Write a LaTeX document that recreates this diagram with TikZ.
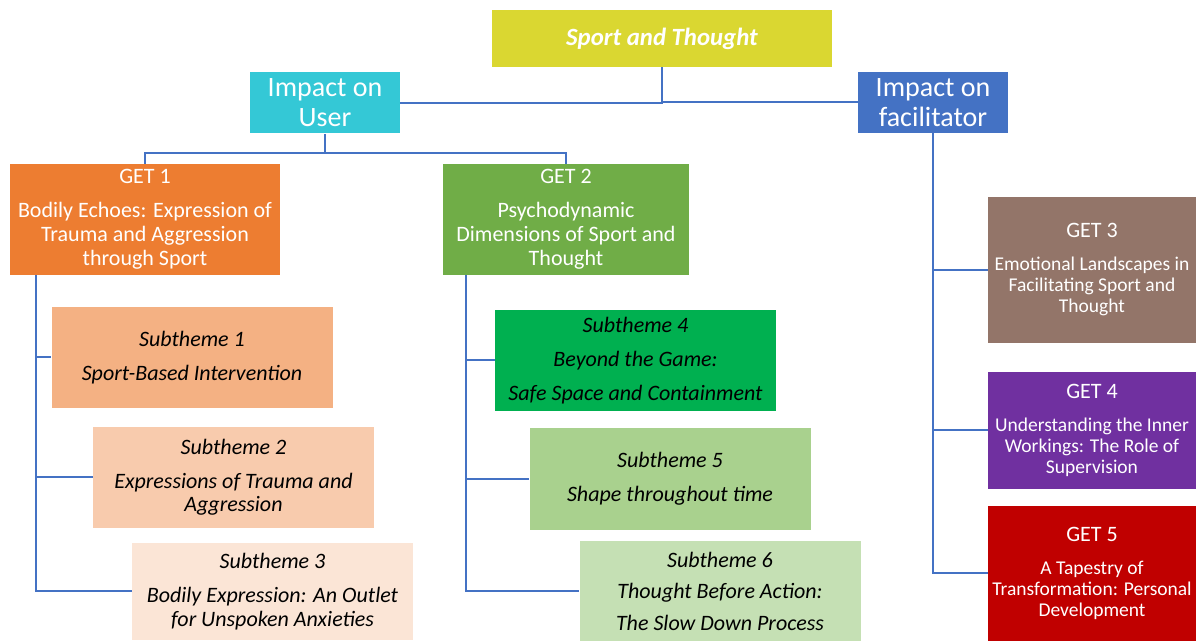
\documentclass[tikz,border=0pt]{standalone}
\usepackage{fontspec}
\setmainfont{Carlito}
\usepackage{tikz}

\definecolor{linkc}{HTML}{4472C4}
\definecolor{sportc}{HTML}{DAD731}
\definecolor{userc}{HTML}{34C8D6}
\definecolor{facc}{HTML}{4472C4}
\definecolor{get1c}{HTML}{ED7D31}
\definecolor{get2c}{HTML}{70AD47}
\definecolor{get3c}{HTML}{937569}
\definecolor{get4c}{HTML}{7030A0}
\definecolor{get5c}{HTML}{C00000}
\definecolor{sub1c}{HTML}{F4B183}
\definecolor{sub2c}{HTML}{F8CBAD}
\definecolor{sub3c}{HTML}{FBE5D6}
\definecolor{sub4c}{HTML}{00B050}
\definecolor{sub5c}{HTML}{A9D18E}
\definecolor{sub6c}{HTML}{C5E0B4}

\newcommand{\gethead}[1]{{\fontsize{11}{10.5}\selectfont #1}}

\tikzset{
    box/.style={rectangle, inner sep=0pt, align=center, text=white}, % every coloured block
    impact/.style={box, minimum width=75pt, minimum height=30.5pt, font=\fontsize{14}{15}\selectfont}, % second level
    get/.style={box, minimum height=55.5pt, font=\fontsize{11}{12}\selectfont}, % GET blocks on the left
    getr/.style={box, minimum width=104pt, font=\fontsize{9.75}{10.5}\selectfont}, % GET blocks on the right
    sub/.style={box, text=black, minimum width=140.5pt, font=\itshape\fontsize{11}{11.75}\selectfont}, % subthemes
    link/.style={draw=linkc, line width=1pt}, % the tree lines
}

\begin{document}
\begin{tikzpicture}[x=0.5pt, y=-0.5pt]
    \useasboundingbox (0,0) rectangle (1196,641);
    % top of the tree
    \node[box, fill=sportc, minimum width=170pt, minimum height=28.5pt,
          font=\bfseries\itshape\fontsize{12.4}{14}\selectfont] (st) at (662,38.5) {Sport and Thought};
    \node[impact, fill=userc] (u) at (325,103) {Impact on\\User};
    \node[impact, fill=facc] (f) at (933,102.5) {Impact on\\facilitator};
    % GET blocks
    \node[get, fill=get1c, minimum width=135pt] (g1) at (145,219.5)
        {GET 1\\[5pt]Bodily Echoes: Expression of\\Trauma and Aggression\\through Sport};
    \node[get, fill=get2c, minimum width=123pt] (g2) at (566,219.5)
        {GET 2\\[5pt]Psychodynamic\\Dimensions of Sport and\\Thought};
    \node[getr, fill=get3c, minimum height=73pt] (g3) at (1092,270)
        {\gethead{GET 3}\\[6pt]Emotional Landscapes in\\Facilitating Sport and\\Thought};
    \node[getr, fill=get4c, minimum height=58.5pt] (g4) at (1092,430.5)
        {\gethead{GET 4}\\[6pt]Understanding the Inner\\Workings: The Role of\\Supervision};
    \node[getr, fill=get5c, minimum height=67.5pt] (g5) at (1092,573.5)
        {\gethead{GET 5}\\[6pt]A Tapestry of\\Transformation: Personal\\Development};
    % subthemes
    \node[sub, fill=sub1c, minimum height=50.5pt] (s1) at (192,357.5)
        {Subtheme 1\\[5.25pt]Sport-Based Intervention};
    \node[sub, fill=sub2c, minimum height=50.5pt] (s2) at (233.5,477.5)
        {Subtheme 2\\[5.25pt]Expressions of Trauma and\\Aggression};
    \node[sub, fill=sub3c, minimum height=48.5pt] (s3) at (272.5,591.5)
        {Subtheme 3\\[5.25pt]Bodily Expression: An Outlet\\for Unspoken Anxieties};
    \node[sub, fill=sub4c, minimum height=50.5pt] (s4) at (635.5,360.5)
        {Subtheme 4\\[5.25pt]Beyond the Game:\\[5.25pt]Safe Space and Containment};
    \node[sub, fill=sub5c, minimum height=51pt] (s5) at (670,479)
        {Subtheme 5\\[5.25pt]Shape throughout time};
    \node[sub, fill=sub6c, minimum height=50pt] (s6) at (720,591)
        {Subtheme 6\\[4pt]Thought Before Action:\\[4pt]The Slow Down Process};
    % connectors
    \draw[link] (st.south) |- (u.east);
    \draw[link] (st.south) |- (f.west);
    \coordinate (uj) at (325,153.5);
    \draw[link] (u.south) -- (uj) -| (g1.north);
    \draw[link] (uj) -| (g2.north);
    \draw[link] ([xshift=13pt]g1.south west) |- (s1.west);
    \draw[link] ([xshift=13pt]g1.south west) |- (s2.west);
    \draw[link] ([xshift=13pt]g1.south west) |- (s3.west);
    \draw[link] ([xshift=11.5pt]g2.south west) |- (s4.west);
    \draw[link] ([xshift=11.5pt]g2.south west) |- (s5.west);
    \draw[link] ([xshift=11.5pt]g2.south west) |- (s6.west);
    \draw[link] (f.south) |- (g3.west);
    \draw[link] (f.south) |- (g4.west);
    \draw[link] (f.south) |- (g5.west);
\end{tikzpicture}
\end{document}
